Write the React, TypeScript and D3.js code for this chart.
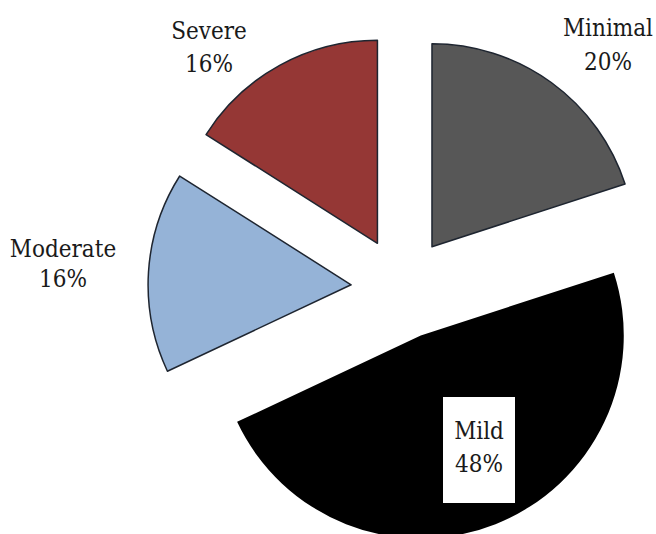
import React from "react";
import * as d3 from "d3";

const categories = ["Minimal", "Mild", "Moderate", "Severe"];
const values = [20, 48, 16, 16];
const percentLabels = ["20%", "48%", "16%", "16%"];
const colors = ["#575757", "#000000", "#95B3D7", "#953735"];

const W = 656;
const H = 534;
const CX = 402;
const CY = 288;
const R = 203;
const EXPLODE = 51;
const FONT = '"DejaVu Serif Condensed", "DejaVu Serif", serif';

// label anchor positions (layout) and per-line baselines
const labelLayout: Record<string, { x: number; y1: number; y2: number; box?: boolean }> = {
  Minimal: { x: 608, y1: 36, y2: 70 },
  Mild: { x: 479, y1: 439, y2: 472, box: true },
  Moderate: { x: 63, y1: 257, y2: 287 },
  Severe: { x: 209, y1: 39, y2: 72 },
};

export default function App() {
  const data = categories.map((c, i) => ({ name: c, value: values[i], pct: percentLabels[i], color: colors[i] }));
  const pie = d3
    .pie<any>()
    .sort(null)
    .value((d: any) => d.value)
    .startAngle(0)
    .endAngle(2 * Math.PI);
  const arcs = pie(data);
  const arc = d3.arc<any>().innerRadius(0).outerRadius(R);

  return (
    <svg
      width={W}
      height={H}
      style={{ position: "absolute", left: 0, top: 0, background: "#fff" }}
    >
      <rect x={0} y={0} width={W} height={H} fill="#fff" />
      <g transform={`translate(${CX},${CY})`}>
        {arcs.map((a, i) => {
          const mid = (a.startAngle + a.endAngle) / 2;
          const dx = Math.sin(mid) * EXPLODE;
          const dy = -Math.cos(mid) * EXPLODE;
          const isBlack = a.data.color === "#000000";
          return (
            <path
              key={i}
              d={arc(a) as string}
              transform={`translate(${dx},${dy})`}
              fill={a.data.color}
              stroke={isBlack ? "#000" : "#1e2530"}
              strokeWidth={isBlack ? 0 : 1.5}
              strokeLinejoin="round"
            />
          );
        })}
      </g>
      {data.map((d, i) => {
        const L = labelLayout[d.name];
        return (
          <g key={i}>
            {L.box && (
              <rect x={L.x - 36} y={L.y1 - 42} width={72} height={106} fill="#fff" />
            )}
            <text x={L.x} y={L.y1} textAnchor="middle" style={{ fontFamily: FONT, fontSize: "24px" }} fill="#1a1a1a">
              {d.name}
            </text>
            <text x={L.x} y={L.y2} textAnchor="middle" style={{ fontFamily: FONT, fontSize: "24px" }} fill="#1a1a1a">
              {d.pct}
            </text>
          </g>
        );
      })}
    </svg>
  );
}
